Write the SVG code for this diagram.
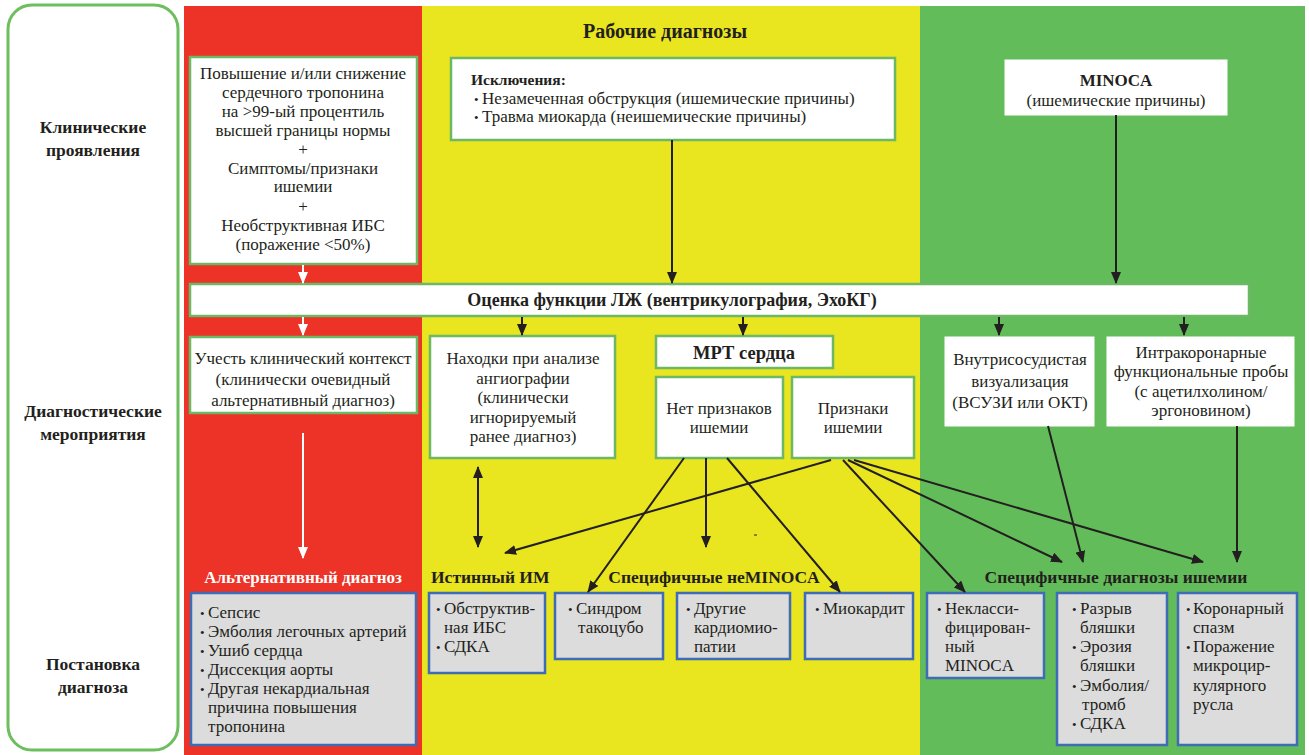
<svg xmlns="http://www.w3.org/2000/svg" width="1309" height="755" viewBox="0 0 1309 755">
<defs>
<style>
text{font-family:"Liberation Serif","Times New Roman",serif;fill:#231f20;font-size:17px}
.b{font-weight:bold}
.m{text-anchor:middle}
.lbl{font-weight:bold;font-size:17.5px;text-anchor:middle}
.sec{font-weight:bold;font-size:17.5px}
.wbox{fill:#fff;stroke:#6db864;stroke-width:2.5}
.gbox{fill:#fff;stroke:#fff;stroke-width:1}
.dbox{fill:#dcdcdc;stroke:#3f6db5;stroke-width:2.5}
.blk{stroke:#231f20;stroke-width:2;fill:none;marker-end:url(#ah)}
.wht{stroke:#fff;stroke-width:2;fill:none;marker-end:url(#wh)}
.bt{font-size:13px}
</style>
<marker id="ah" viewBox="0 0 12 10" refX="11" refY="5" markerWidth="12" markerHeight="10" markerUnits="userSpaceOnUse" orient="auto-start-reverse"><path d="M0,0 L12,5 L0,10 z" fill="#231f20"/></marker>
<marker id="wh" viewBox="0 0 12 10" refX="11" refY="5" markerWidth="12" markerHeight="10" markerUnits="userSpaceOnUse" orient="auto"><path d="M0,0 L12,5 L0,10 z" fill="#fff"/></marker>
</defs>
<rect width="1309" height="755" fill="#fff"/>
<g id="bands">
<rect x="184" y="6" width="238" height="749" fill="#ed3227"/>
<rect x="422" y="6" width="498" height="749" fill="#e9e51e"/>
<rect x="920" y="6" width="385" height="749" fill="#63bc5a"/>
</g>
<g id="side">
<rect x="8" y="5" width="170" height="745" rx="24" fill="#fff" stroke="#6dbf5e" stroke-width="3"/>
<text class="lbl" x="93" y="133">Клинические</text>
<text class="lbl" x="93" y="156">проявления</text>
<text class="lbl" x="93" y="417">Диагностические</text>
<text class="lbl" x="93" y="440">мероприятия</text>
<text class="lbl" x="93" y="670">Постановка</text>
<text class="lbl" x="93" y="693">диагноза</text>
</g>
<g id="title"><text class="b m" x="665" y="38" style="font-size:20px">Рабочие диагнозы</text></g>
<g id="criteria">
<rect class="wbox" x="190" y="57" width="227" height="207"/>
<text class="m" x="303" y="79">Повышение и/или снижение</text>
<text class="m" x="303" y="98">сердечного тропонина</text>
<text class="m" x="303" y="117">на &gt;99-ый процентиль</text>
<text class="m" x="303" y="136">высшей границы нормы</text>
<text class="m" x="303" y="155">+</text>
<text class="m" x="303" y="174">Симптомы/признаки</text>
<text class="m" x="303" y="192">ишемии</text>
<text class="m" x="303" y="212">+</text>
<text class="m" x="303" y="231">Необструктивная ИБС</text>
<text class="m" x="303" y="250">(поражение &lt;50%)</text>
</g>
<g id="exclusions">
<rect class="wbox" x="451" y="58" width="444" height="82"/>
<text class="b" x="471" y="85" style="font-size:15.5px">Исключения:</text>
<text x="474" y="104"><tspan class="bt">•</tspan><tspan x="482">Незамеченная обструкция (ишемические причины)</tspan></text>
<text x="474" y="122"><tspan class="bt">•</tspan><tspan x="482">Травма миокарда (неишемические причины)</tspan></text>
</g>
<g id="minoca">
<rect class="gbox" x="1005" y="60" width="222" height="55"/>
<text class="b m" x="1116" y="86">MINOCA</text>
<text class="m" x="1116" y="106">(ишемические причины)</text>
</g>
<g id="lv">
<rect class="wbox" x="190" y="284" width="1059" height="32"/>
<text class="b m" x="672" y="306" style="font-size:18px">Оценка функции ЛЖ (вентрикулография, ЭхоКГ)</text>
</g>
<g id="context">
<rect class="wbox" x="190" y="337" width="227" height="76"/>
<text class="m" x="303" y="364">Учесть клинический контекст</text>
<text class="m" x="303" y="385">(клинически очевидный</text>
<text class="m" x="303" y="406">альтернативный диагноз)</text>
</g>
<g id="angio">
<rect class="wbox" x="430" y="336" width="185" height="122"/>
<text class="m" x="523" y="364">Находки при анализе</text>
<text class="m" x="523" y="384">ангиографии</text>
<text class="m" x="523" y="403">(клинически</text>
<text class="m" x="523" y="423">игнорируемый</text>
<text class="m" x="523" y="442">ранее диагноз)</text>
</g>
<g id="mri">
<rect class="wbox" x="656" y="336" width="177" height="32"/>
<text class="b m" x="744" y="359" style="font-size:18.5px">МРТ сердца</text>
</g>
<g id="noisch">
<rect class="wbox" x="656" y="377" width="127" height="81"/>
<text class="m" x="719" y="414">Нет признаков</text>
<text class="m" x="719" y="433">ишемии</text>
</g>
<g id="isch">
<rect class="wbox" x="792" y="377" width="122" height="81"/>
<text class="m" x="853" y="414">Признаки</text>
<text class="m" x="853" y="433">ишемии</text>
</g>
<g id="ivus">
<rect class="gbox" x="945" y="337" width="149" height="89"/>
<text class="m" x="1020" y="365">Внутрисосудистая</text>
<text class="m" x="1020" y="387">визуализация</text>
<text class="m" x="1020" y="408">(ВСУЗИ или ОКТ)</text>
</g>
<g id="provoc">
<rect class="gbox" x="1107" y="337" width="187" height="89"/>
<text class="m" x="1201" y="358">Интракоронарные</text>
<text class="m" x="1201" y="377">функциональные пробы</text>
<text class="m" x="1201" y="397">(с ацетилхолином/</text>
<text class="m" x="1201" y="416">эргоновином)</text>
</g>
<g id="section-labels">
<text class="sec m" x="303" y="583" style="fill:#fff;font-size:17px">Альтернативный диагноз</text>
<text class="sec" x="431" y="583">Истинный ИМ</text>
<text class="sec m" x="714" y="583">Специфичные неMINOCA</text>
<text class="sec m" x="1116" y="583">Специфичные диагнозы ишемии</text>
</g>
<g id="alt">
<rect class="dbox" x="191" y="593" width="225" height="152"/>
<text x="200" y="618"><tspan class="bt">•</tspan><tspan x="208">Сепсис</tspan></text>
<text x="200" y="637"><tspan class="bt">•</tspan><tspan x="208">Эмболия легочных артерий</tspan></text>
<text x="200" y="656"><tspan class="bt">•</tspan><tspan x="208">Ушиб сердца</tspan></text>
<text x="200" y="675"><tspan class="bt">•</tspan><tspan x="208">Диссекция аорты</tspan></text>
<text x="200" y="694"><tspan class="bt">•</tspan><tspan x="208">Другая некардиальная</tspan></text>
<text x="208" y="713">причина повышения</text>
<text x="208" y="732">тропонина</text>
</g>
<g id="truemi">
<rect class="dbox" x="429" y="593" width="116" height="80"/>
<text x="436" y="614"><tspan class="bt">•</tspan><tspan x="444">Обструктив-</tspan></text>
<text x="444" y="633">ная ИБС</text>
<text x="436" y="652"><tspan class="bt">•</tspan><tspan x="444">СДКА</tspan></text>
</g>
<g id="takotsubo">
<rect class="dbox" x="555" y="593" width="108" height="66"/>
<text x="568" y="614"><tspan class="bt">•</tspan><tspan x="576">Синдром</tspan></text>
<text x="578" y="633">такоцубо</text>
</g>
<g id="cmp">
<rect class="dbox" x="677" y="593" width="113" height="66"/>
<text x="686" y="614"><tspan class="bt">•</tspan><tspan x="694">Другие</tspan></text>
<text x="694" y="633">кардиомио-</text>
<text x="694" y="652">патии</text>
</g>
<g id="myocarditis">
<rect class="dbox" x="805" y="593" width="108" height="66"/>
<text x="815" y="614"><tspan class="bt">•</tspan><tspan x="823">Миокардит</tspan></text>
</g>
<g id="unclass">
<rect class="dbox" x="927" y="593" width="117" height="85"/>
<text x="937" y="614"><tspan class="bt">•</tspan><tspan x="945">Некласси-</tspan></text>
<text x="945" y="633">фицирован-</text>
<text x="945" y="652">ный</text>
<text x="945" y="671">MINOCA</text>
</g>
<g id="plaque">
<rect class="dbox" x="1057" y="593" width="110" height="152"/>
<text x="1072" y="614"><tspan class="bt">•</tspan><tspan x="1080">Разрыв</tspan></text>
<text x="1080" y="633">бляшки</text>
<text x="1072" y="652"><tspan class="bt">•</tspan><tspan x="1080">Эрозия</tspan></text>
<text x="1080" y="671">бляшки</text>
<text x="1072" y="691"><tspan class="bt">•</tspan><tspan x="1080">Эмболия/</tspan></text>
<text x="1082" y="710">тромб</text>
<text x="1072" y="729"><tspan class="bt">•</tspan><tspan x="1080">СДКА</tspan></text>
</g>
<g id="spasm">
<rect class="dbox" x="1178" y="593" width="119" height="152"/>
<text x="1186" y="614"><tspan class="bt">•</tspan><tspan x="1193">Коронарный</tspan></text>
<text x="1193" y="633">спазм</text>
<text x="1186" y="652"><tspan class="bt">•</tspan><tspan x="1193">Поражение</tspan></text>
<text x="1193" y="671">микроцир-</text>
<text x="1193" y="691">кулярного</text>
<text x="1193" y="710">русла</text>
</g>
<g id="connectors">
<line class="wht" x1="303" y1="265" x2="303" y2="283"/>
<line class="blk" x1="672" y1="140" x2="672" y2="283"/>
<line class="blk" x1="1116" y1="115" x2="1116" y2="283"/>
<line class="wht" x1="303" y1="317" x2="303" y2="335"/>
<line class="blk" x1="522" y1="317" x2="522" y2="335"/>
<line class="blk" x1="743" y1="317" x2="743" y2="335"/>
<line class="blk" x1="999" y1="317" x2="999" y2="335"/>
<line class="blk" x1="1184" y1="317" x2="1184" y2="335"/>
<line class="wht" x1="303" y1="433" x2="303" y2="558"/>
<line class="blk" x1="478" y1="467" x2="478" y2="547" style="marker-start:url(#ah)"/>
<line class="blk" x1="831" y1="460" x2="505" y2="553"/>
<line class="blk" x1="684" y1="458" x2="588" y2="592"/>
<line class="blk" x1="706" y1="458" x2="706" y2="547"/>
<line class="blk" x1="727" y1="458" x2="840" y2="592"/>
<line class="blk" x1="843" y1="460" x2="965" y2="592"/>
<line class="blk" x1="848" y1="460" x2="1062" y2="562"/>
<line class="blk" x1="854" y1="460" x2="1203" y2="562"/>
<line class="blk" x1="1048" y1="426" x2="1083" y2="562"/>
<line class="blk" x1="1237" y1="426" x2="1237" y2="562"/>
<line x1="754" y1="535" x2="757" y2="535" stroke="#231f20" stroke-width="1"/>
</g>
</svg>
